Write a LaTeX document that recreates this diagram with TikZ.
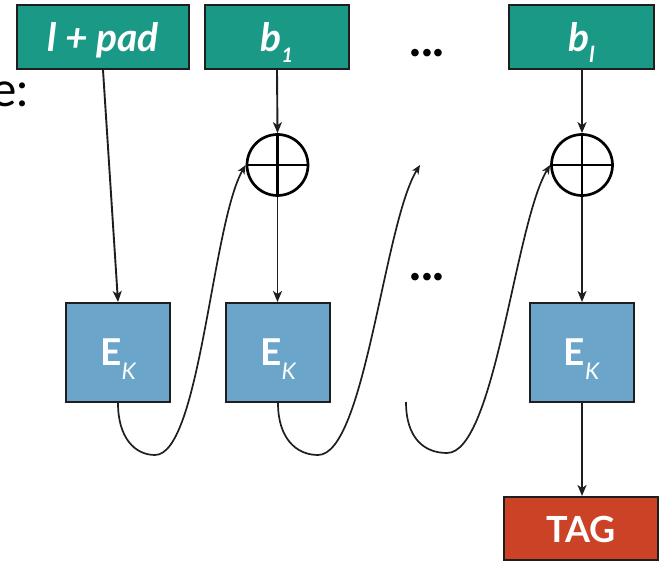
\documentclass[tikz,border=0pt]{standalone}
\usepackage{fontspec}
\setmainfont{Lato}
\usetikzlibrary{arrows.meta}

\definecolor{blockteal}{RGB}{27,153,135}
\definecolor{cipherblue}{RGB}{108,165,202}
\definecolor{tagred}{RGB}{204,66,38}
\definecolor{edge}{RGB}{30,30,30}

\newcommand{\sublow}[2]{\raisebox{-#1}{#2}}

\begin{document}
\begin{tikzpicture}[x=1pt,y=1pt,
  box/.style={draw=edge,line width=2pt,inner sep=0pt,text=white},
  msgbox/.style={box,fill=blockteal,minimum height=64pt,text height=30pt,text depth=0pt,
    font=\fontsize{39}{39}\selectfont\bfseries\itshape},
  encbox/.style={box,fill=cipherblue,minimum width=104pt,minimum height=99pt,text height=27pt,text depth=0pt,
    font=\fontsize{37}{37}\selectfont\bfseries},
  tagbox/.style={box,fill=tagred,minimum width=154pt,minimum height=63pt,text height=27pt,text depth=0pt,
    font=\fontsize{36}{36}\selectfont\bfseries},
  xor/.style={circle,draw=black,line width=2.7pt,minimum size=61pt,inner sep=0pt,
    path picture={\draw[line width=2.7pt]
      (path picture bounding box.north) -- (path picture bounding box.south)
      (path picture bounding box.west) -- (path picture bounding box.east);}},
  flow/.style={draw=edge,line width=1.9pt,-{Stealth[length=11pt,width=9pt,inset=3pt]}},
  chain/.style={draw=edge,line width=1.7pt,-{Stealth[length=9pt,width=7.5pt,inset=2.5pt]}},
  dots/.style={font=\fontsize{50}{50}\selectfont\bfseries,inner sep=0pt}
]
\useasboundingbox (0,0) rectangle (659,563);

% trailing word of the preceding line
\node[anchor=base east,inner sep=0pt,font=\fontsize{48}{48}\selectfont,text=black]
  (caption) at (29,456) {e:};

% message blocks
\node[msgbox,minimum width=172pt] (lpad) at (103,526) {l + pad};
\node[msgbox,minimum width=144pt] (b1) at (277,526)
  {b\sublow{11pt}{\fontsize{20}{20}\selectfont 1}};
\node[msgbox,minimum width=145pt] (bl) at (581.5,526)
  {b\sublow{11pt}{\fontsize{22}{22}\selectfont l}};
\node[dots] (topdots) at (427,510) {...};

% xor gates
\node[xor] (x1) at (277.5,398) {};
\node[xor] (x2) at (582,398) {};
\node[dots] (middots) at (427,286) {...};

% block cipher calls
\newcommand{\ek}{E\sublow{14pt}{\fontsize{23}{23}\selectfont\mdseries\itshape K}}
\node[encbox] (e1) at (118,210.5) {\ek};
\node[encbox] (e2) at (278,210.5) {\ek};
\node[encbox] (e3) at (581.5,210.5) {\ek};

% output tag
\node[tagbox] (tag) at (581,34.5) {TAG};

% straight data flow
\draw[flow] (lpad.south) -- (e1.north);
\draw[flow] (b1.south) -- (x1.north);
\draw[flow] (x1.south) -- (e2.north -| x1.south);
\draw[flow] (bl.south -| x2.north) -- (x2.north);
\draw[flow] (x2.south) -- (e3.north -| x2.south);
\draw[flow] (e3.south -| x2.south) -- (tag.north -| x2.south);

% chaining between cipher calls
\coordinate (gapin) at (420,398);
\coordinate (gapout) at (406,161);

\draw[chain] (e1.south) .. controls (118,125) and (135,108) .. (155,108)
  .. controls (200,108) and (212,340) .. (x1.west);
\draw[chain] (e2.south) .. controls (278,125) and (296,108) .. (318,108)
  .. controls (365,108) and (384,340) .. (gapin);
\draw[chain] (gapout) .. controls (406,125) and (424,110) .. (447,110)
  .. controls (495,110) and (515,340) .. (x2.west);
\end{tikzpicture}
\end{document}
